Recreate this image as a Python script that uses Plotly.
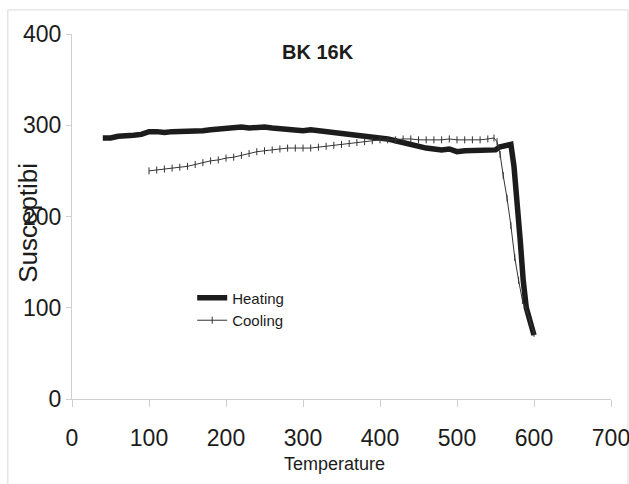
import plotly.graph_objects as go

heat_t = [40, 50, 60, 70, 80, 90, 100, 110, 120, 130, 140, 150, 160, 170, 180, 190, 200, 210, 220, 230, 240, 250,
          260, 270, 280, 290, 300, 310, 320, 330, 340, 350, 360, 370, 380, 390, 400, 410, 420, 430, 440, 450, 460,
          470, 480, 490, 500, 510, 520, 530, 540, 550, 555, 560, 565, 570, 574, 578, 582, 586, 590, 595, 600]
heat_v = [286, 286, 288, 288, 289, 290, 293, 293, 292, 293, 293, 294, 294, 294, 295, 296, 296, 297, 298, 297, 298, 298,
          297, 296, 296, 295, 294, 295, 294, 294, 292, 292, 291, 290, 288, 287, 286, 285, 283, 281, 278, 276, 275,
          274, 273, 274, 271, 272, 272, 272, 272, 273, 276, 277, 278, 279, 255, 220, 175, 130, 100, 85, 70]

cool_t = [100, 110, 120, 130, 140, 150, 160, 170, 180, 190, 200, 210, 220, 230, 240, 250, 260, 270, 280, 290, 300,
          310, 320, 330, 340, 350, 360, 370, 380, 390, 400, 410, 420, 430, 440, 450, 460, 470, 480, 490, 500, 510,
          520, 530, 540, 548, 552, 556, 560, 565, 570, 575, 580, 585, 590, 595, 600]
cool_v = [250, 251, 252, 253, 254, 255, 257, 259, 261, 262, 264, 265, 267, 269, 271, 272, 273, 274, 275, 275, 275,
          275, 276, 277, 278, 279, 280, 281, 282, 283, 284, 284, 284, 285, 285, 284, 284, 284, 284, 285, 284, 284,
          284, 284, 285, 286, 282, 268, 245, 220, 190, 155, 130, 108, 98, 84, 72]

x_ticks = [0, 100, 200, 300, 400, 500, 600, 700]
y_ticks = [0, 100, 200, 300, 400]

FONT = "Liberation Sans, Arial, sans-serif"
INK = "#1c1c1c"
AXIS = "#cfcfcf"

fig = go.Figure()
fig.add_trace(go.Scatter(x=heat_t, y=heat_v, name="Heating", mode="lines",
                         line=dict(color=INK, width=5.5)))
fig.add_trace(go.Scatter(x=cool_t, y=cool_v, name="Cooling", mode="lines+markers",
                         line=dict(color="#333333", width=1),
                         marker=dict(symbol="line-ns", size=5, line=dict(width=1, color="#333333"))))

fig.update_layout(
    width=629, height=484,
    margin=dict(l=72, r=18, t=34, b=85),
    paper_bgcolor="white", plot_bgcolor="white",
    showlegend=True,
    legend=dict(x=0.223, y=0.322, xanchor="left", yanchor="top",
                font=dict(family=FONT, size=15, color=INK),
                bgcolor="rgba(0,0,0,0)", itemwidth=30, tracegroupgap=0),
    font=dict(family=FONT, color=INK),
)
fig.update_xaxes(range=[0, 700], tickvals=x_ticks, ticktext=[str(v) for v in x_ticks],
                 showgrid=False, zeroline=False, showline=True, linecolor=AXIS, linewidth=1,
                 ticks="outside", ticklen=7, tickcolor=AXIS, automargin=False,
                 ticklabeloverflow="allow",
                 tickfont=dict(family=FONT, size=23, color=INK), ticklabelstandoff=11)
fig.update_yaxes(range=[0, 400], tickvals=y_ticks, ticktext=[str(v) for v in y_ticks],
                 showgrid=False, zeroline=False, showline=True, linecolor=AXIS, linewidth=1,
                 ticks="outside", ticklen=5, tickcolor=AXIS, automargin=False,
                 tickfont=dict(family=FONT, size=23, color=INK))

fig.add_annotation(text="<b>BK 16K</b>", xref="paper", yref="paper", x=0.457, y=0.951,
                   xanchor="center", yanchor="middle",
                   showarrow=False, font=dict(family=FONT, size=20, color=INK))
fig.add_annotation(text="Temperature", xref="paper", yref="paper", x=0.487, y=-0.178,
                   xanchor="center", yanchor="middle",
                   showarrow=False, font=dict(family=FONT, size=18, color=INK))
fig.add_annotation(text="Susceptibi", xref="paper", yref="paper", x=-0.082, y=0.482,
                   xanchor="center", yanchor="middle",
                   textangle=-90, showarrow=False,
                   font=dict(family=FONT, size=26, color=INK))
fig.add_shape(type="rect", xref="paper", yref="paper", x0=-0.119, y0=-0.3, x1=1.0316, y1=1.066,
              line=dict(color="#d9d9d9", width=1), fillcolor="rgba(0,0,0,0)", layer="below")

fig.write_html("out.html")
